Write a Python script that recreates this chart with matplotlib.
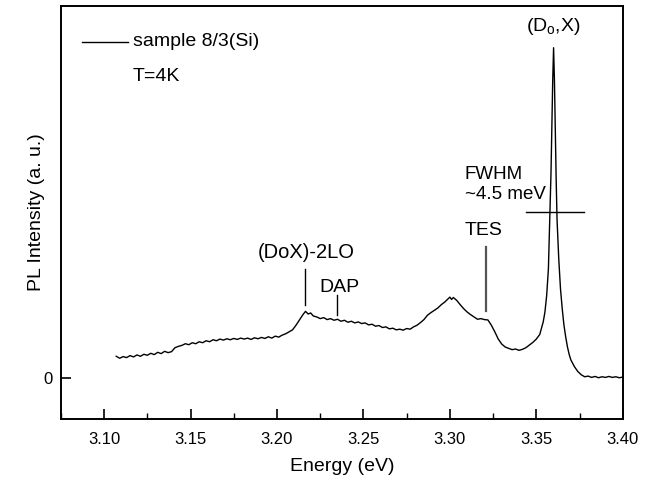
import matplotlib
matplotlib.use("Agg")
import matplotlib.pyplot as plt
from matplotlib.ticker import MultipleLocator, FixedLocator

plt.rcParams['font.family'] = ['Liberation Sans', 'DejaVu Sans']

energy = [3.107, 3.109, 3.111, 3.113, 3.115, 3.117, 3.119, 3.121, 3.123, 3.125,
          3.127, 3.129, 3.131, 3.133, 3.135, 3.137, 3.139, 3.141, 3.143, 3.145,
          3.147, 3.149, 3.151, 3.153, 3.155, 3.157, 3.159, 3.161, 3.163, 3.165,
          3.167, 3.169, 3.171, 3.173, 3.175, 3.177, 3.179, 3.181, 3.183, 3.185,
          3.187, 3.189, 3.191, 3.193, 3.195, 3.197, 3.199, 3.201, 3.203, 3.205,
          3.207, 3.209, 3.211, 3.213, 3.215, 3.2165, 3.218, 3.2195, 3.221, 3.223,
          3.225, 3.227, 3.229, 3.231, 3.233, 3.235, 3.237, 3.239, 3.241, 3.243,
          3.245, 3.247, 3.249, 3.251, 3.253, 3.255, 3.257, 3.259, 3.261, 3.263,
          3.265, 3.267, 3.269, 3.271, 3.273, 3.275, 3.277, 3.279, 3.281, 3.283,
          3.285, 3.287, 3.289, 3.291, 3.293, 3.295, 3.297, 3.299, 3.300, 3.301,
          3.302, 3.304, 3.306, 3.308, 3.310, 3.312, 3.314, 3.316, 3.318, 3.320,
          3.322, 3.324, 3.326, 3.328, 3.330, 3.332, 3.334, 3.336, 3.338, 3.340,
          3.342, 3.344, 3.346, 3.348, 3.350, 3.352, 3.354, 3.355, 3.356, 3.357,
          3.3577, 3.3585, 3.359, 3.3595, 3.360, 3.3605, 3.361, 3.3615, 3.362, 3.363,
          3.364, 3.365, 3.366, 3.367, 3.368, 3.369, 3.370, 3.372, 3.374, 3.376,
          3.378, 3.380, 3.382, 3.384, 3.386, 3.388, 3.390, 3.392, 3.394, 3.396,
          3.398, 3.400]
intensity = [0.066, 0.060, 0.065, 0.062, 0.068, 0.064, 0.070, 0.066, 0.072, 0.069,
             0.075, 0.071, 0.078, 0.074, 0.081, 0.077, 0.080, 0.092, 0.096, 0.099,
             0.104, 0.101, 0.107, 0.104, 0.110, 0.107, 0.113, 0.110, 0.116, 0.113,
             0.118, 0.115, 0.119, 0.116, 0.120, 0.117, 0.121, 0.118, 0.121, 0.117,
             0.122, 0.119, 0.123, 0.120, 0.125, 0.121, 0.127, 0.124, 0.130, 0.134,
             0.140, 0.146, 0.160, 0.176, 0.192, 0.202, 0.194, 0.197, 0.188, 0.185,
             0.180, 0.183, 0.177, 0.180, 0.175, 0.178, 0.172, 0.175, 0.169, 0.172,
             0.167, 0.170, 0.165, 0.167, 0.161, 0.163, 0.157, 0.159, 0.153, 0.155,
             0.149, 0.151, 0.146, 0.148, 0.145, 0.150, 0.148, 0.155, 0.160, 0.168,
             0.177, 0.190, 0.198, 0.205, 0.212, 0.222, 0.230, 0.240, 0.245, 0.238,
             0.244, 0.235, 0.222, 0.210, 0.200, 0.192, 0.185, 0.178, 0.180, 0.177,
             0.176, 0.160, 0.140, 0.118, 0.103, 0.094, 0.090, 0.086, 0.088, 0.084,
             0.087, 0.092, 0.100, 0.108, 0.118, 0.132, 0.170, 0.200, 0.250, 0.330,
             0.460, 0.620, 0.760, 0.900, 1.000, 0.900, 0.740, 0.600, 0.480, 0.360,
             0.270, 0.210, 0.160, 0.125, 0.095, 0.072, 0.055, 0.035, 0.020, 0.010,
             0.004, 0.006, 0.002, 0.005, 0.001, 0.004, 0.002, 0.005, 0.002, 0.004,
             0.001, 0.003]

xticks = [3.10, 3.15, 3.20, 3.25, 3.30, 3.35, 3.40]
xtick_labels = ["3.10", "3.15", "3.20", "3.25", "3.30", "3.35", "3.40"]

fig = plt.figure(figsize=(6.48, 4.80), dpi=100)
ax = fig.add_axes([0.094, 0.127, 0.867, 0.861])

ax.plot(energy, intensity, color='black', lw=1.0)

ax.set_xlim(3.075, 3.40)
ax.set_ylim(-0.124, 1.127)

ax.xaxis.set_major_locator(FixedLocator(xticks))
ax.set_xticklabels(xtick_labels, fontsize=12)
ax.xaxis.set_minor_locator(MultipleLocator(0.025))
ax.set_yticks([0])
ax.set_yticklabels(["0"], fontsize=12)
ax.tick_params(axis='x', which='major', direction='in', length=7, width=1.2,
               top=False, pad=9)
ax.tick_params(axis='y', which='major', direction='in', length=7, width=1.2,
               right=False, pad=6)
ax.tick_params(axis='x', which='minor', direction='in', length=4, width=1.0, top=False)
for s in ax.spines.values():
    s.set_linewidth(1.4)

ax.set_xlabel("Energy (eV)", fontsize=14, labelpad=8)
ax.set_ylabel("PL Intensity (a. u.)", fontsize=14, labelpad=-1)

# annotation marks
ax.plot([3.2164, 3.2164], [0.221, 0.330], color='black', lw=1.0)
ax.plot([3.2350, 3.2350], [0.191, 0.252], color='black', lw=1.0)
ax.plot([3.3207, 3.3207], [0.203, 0.397], color='#555555', lw=1.6)
ax.plot([3.3438, 3.3774], [0.503, 0.503], color='black', lw=1.0)

ax.text(3.217, 0.379, "(DoX)-2LO", fontsize=14.5, ha='center', va='center')
ax.text(3.236, 0.273, "DAP", fontsize=14, ha='center', va='center')
ax.text(3.3085, 0.448, "TES", fontsize=14, ha='left', va='center')
ax.text(3.3085, 0.615, "FWHM", fontsize=13.5, ha='left', va='center')
ax.text(3.3085, 0.555, "~4.5 meV", fontsize=13.5, ha='left', va='center')
ax.text(3.3600, 1.065, "(D$_\\mathregular{o}$,X)", fontsize=14, ha='center', va='center')

# legend-like annotation
ax.plot([0.037, 0.119], [0.913, 0.913], color='black', lw=1.0, transform=ax.transAxes)
ax.text(0.128, 0.913, "sample 8/3(Si)", fontsize=14, ha='left', va='center',
        transform=ax.transAxes)
ax.text(0.128, 0.828, "T=4K", fontsize=14, ha='left', va='center',
        transform=ax.transAxes)

fig.savefig("out.png", dpi=100)
